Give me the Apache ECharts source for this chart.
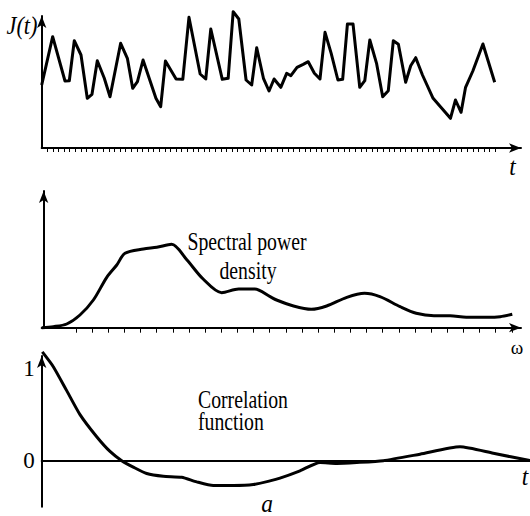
<!DOCTYPE html>
<html>
<head>
<meta charset="utf-8">
<script src="https://cdn.jsdelivr.net/npm/echarts@6/dist/echarts.min.js"></script>
<style>
	html, body { margin: 0; padding: 0; background: #fff; }
	#chart { width: 530px; height: 516px; }
</style>
</head>
<body>
<div id="chart"></div>
<script>
// top panel: random-looking signal J(t), t in tick steps
const signalT = [0, 1.96, 4.16, 4.93, 5.82, 7.02, 8.14, 8.98, 9.93, 11.18,
	12.2, 14.1, 15.3, 16.25, 17.1, 18.1, 20.4, 21.25, 22.1, 24,
	25.2, 26.3, 28.3, 29.3, 30.2, 32.25, 33.3, 34.2, 35.2, 36.5,
	37.5, 38.4, 39.6, 40.6, 41.5, 42.7, 43.75, 44.5, 45.6, 46.7,
	47.6, 48.7, 49.7, 50.6, 51.7, 52.9, 53.75, 54.6, 55.6, 56.8,
	57.7, 58.6, 59.8, 60.9, 61.9, 62.8, 63.7, 65, 65.9, 66.8,
	68, 69.9, 71.1, 73, 73.9, 74.9, 75.7, 77, 78.8, 80.9];
const signalJ = [63, 111.3, 67, 67.3, 107.3, 93, 49.7, 53.7, 87.3, 69.7,
	51.3, 104.7, 89.7, 59.7, 66.3, 88, 49.7, 41.3, 87, 69,
	68.7, 130.7, 74, 69, 119, 68.7, 69.7, 136.3, 129, 68,
	63, 100.3, 69.7, 57, 69, 60.7, 74.7, 72.3, 80.7, 83.7,
	86.3, 74.7, 69, 115.7, 94.7, 68, 68.7, 124, 124, 60.7,
	67.3, 108, 84.7, 51.3, 57.3, 107.3, 103.7, 65.7, 82.3, 90.3,
	73, 49.7, 42, 29.7, 48, 35.7, 60.7, 77, 104, 65.7];
const signalTickCount = 81;

// middle panel: spectral power density
const spectrumW = [-0.12, 0.6, 1.43, 2.25, 3.08, 3.91, 4.53, 5.04, 6.18, 7.01,
	7.93, 8.88, 9.88, 11.03, 12.08, 13.08, 14.03, 14.43, 15.48, 16.58,
	17.53, 18.78, 19.88, 20.83, 22.08, 23.08, 24.18, 25.18, 26.18, 27.48,
	28.28, 29.03];
const spectrumS = [0, 1, 3.7, 12.7, 27.7, 50.4, 62.7, 74.4, 78.7, 80.4,
	83.4, 67.7, 48.7, 35, 38.7, 38.7, 31, 27.7, 21.7, 18.4,
	21.7, 30.4, 34.4, 31, 21, 14.4, 12, 12, 10.4, 10.4,
	11, 13.4];
const spectrumTickFirst = 2;
const spectrumTickLast = 29;

// bottom panel: correlation function
const corrTau = [0.06, 1.16, 2.5, 3.83, 5.5, 6.83, 8, 9.16, 10.5, 12.16,
	14, 15.5, 17.16, 19.16, 21.16, 22.83, 23.83, 25.83, 27.83, 29.5,
	31.5, 34.16, 37.83, 41.83, 45.16, 48.83];
const corrR = [1.18, 1.02, 0.76, 0.5, 0.26, 0.1, 0, -0.07, -0.14, -0.17,
	-0.18, -0.23, -0.27, -0.27, -0.26, -0.22, -0.19, -0.11, -0.02, -0.03,
	-0.02, 0, 0.07, 0.15, 0.08, 0];
const corrLabels = [0, 1];

const signalTicks = Array.from({ length: signalTickCount }, (_, i) => i + 1);
const spectrumTicks = [];
for (let k = spectrumTickFirst; k <= spectrumTickLast; k++) spectrumTicks.push(k);

const SERIF = "'Liberation Serif', 'DejaVu Serif', serif";
const INK = "#000";

const arrowLine = {
	show: true,
	symbol: ["none", "arrow"],
	symbolSize: [7, 12],
	lineStyle: { color: INK, width: 2 },
};

function plainAxis(extra) {
	return Object.assign({
		type: "value",
		axisLine: arrowLine,
		axisTick: { show: false },
		axisLabel: { show: false },
		splitLine: { show: false },
	}, extra);
}

function curve(idx, xs, ys, smooth) {
	return {
		type: "line",
		xAxisIndex: idx,
		yAxisIndex: idx,
		data: xs.map((x, i) => [x, ys[i]]),
		showSymbol: false,
		smooth: smooth,
		clip: false,
		silent: true,
		lineStyle: { color: INK, width: 3, join: "round" },
	};
}

// condensed serif text, like the typeset figure
function label(text, x, y, size, opts) {
	opts = opts || {};
	return {
		type: "text",
		x: x,
		y: y,
		scaleX: opts.scaleX || 0.76,
		silent: true,
		style: {
			text: text,
			fill: INK,
			fontFamily: SERIF,
			fontSize: size,
			fontStyle: opts.italic ? "italic" : "normal",
			align: opts.align || "center",
			verticalAlign: "middle",
		},
	};
}

const chart = echarts.init(document.getElementById("chart"), null, { renderer: "svg" });

const option = {
	animation: false,
	backgroundColor: "#fff",
	grid: [
		{ left: 41.7, right: 9, top: 16, bottom: 368 },
		{ left: 41.7, right: 9, top: 191, bottom: 188.3 },
		{ left: 41.7, right: 0, top: 356, bottom: 9.3 },
	],
	xAxis: [
		plainAxis({
			gridIndex: 0, min: 0, max: 85.6,
			axisTick: { show: true, customValues: signalTicks, length: 4, lineStyle: { color: INK, width: 1 } },
		}),
		plainAxis({
			gridIndex: 1, min: -0.12, max: 29.57,
			axisTick: { show: true, customValues: spectrumTicks, length: 5, lineStyle: { color: INK, width: 1 } },
		}),
		plainAxis({
			gridIndex: 2, min: 0, max: 48.83,
			axisLine: { show: true, lineStyle: { color: INK, width: 2 } },
		}),
	],
	yAxis: [
		plainAxis({ gridIndex: 0, min: 0, max: 132 }),
		plainAxis({ gridIndex: 1, min: 0, max: 136.7 }),
		plainAxis({
			gridIndex: 2, min: -0.5, max: 1.136,
			axisLabel: {
				show: true,
				customValues: corrLabels,
				margin: 7,
				color: INK,
				fontFamily: SERIF,
				fontSize: 23,
			},
		}),
	],
	series: [
		curve(0, signalT, signalJ, false),
		curve(1, spectrumW, spectrumS, 0.3),
		curve(2, corrTau, corrR, 0.2),
	],
	graphic: [
		label("J(t)", 22, 25, 26, { italic: true, scaleX: 0.86 }),
		label("t", 512.5, 166, 26, { italic: true, scaleX: 0.9 }),
		label("Spectral power", 247, 241, 26),
		label("density", 248, 270, 26),
		label("ω", 517, 347, 19, { scaleX: 1 }),
		label("Correlation", 198, 399, 26, { align: "left" }),
		label("function", 198, 421, 26, { align: "left" }),
		label("t", 525, 476, 26, { italic: true, scaleX: 0.9 }),
		label("a", 267, 503, 26, { italic: true, scaleX: 0.9 }),
	],
};

chart.setOption(option);
</script>
</body>
</html>
